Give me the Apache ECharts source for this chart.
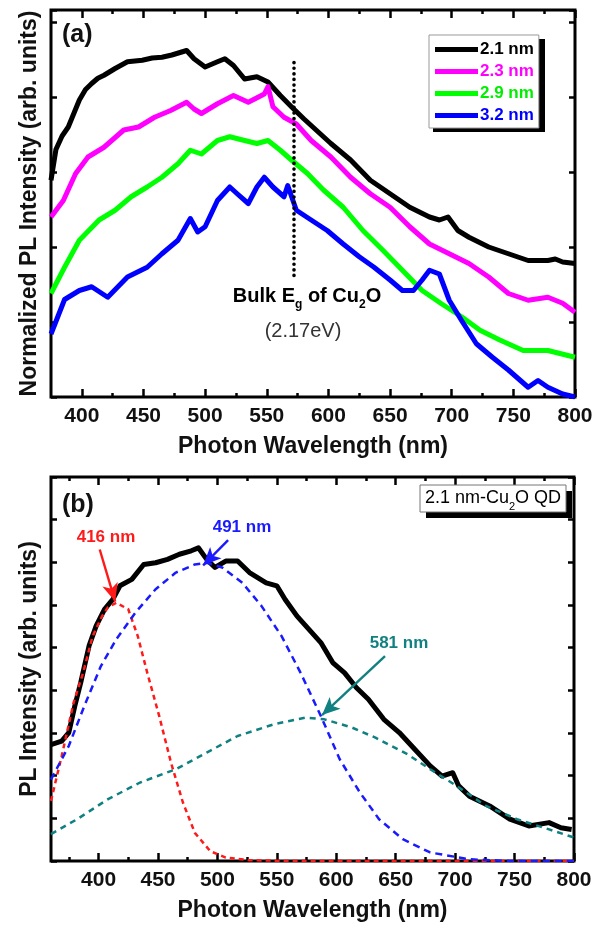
<!DOCTYPE html>
<html>
<head>
<meta charset="utf-8">
<script src="https://cdn.jsdelivr.net/npm/echarts@6/dist/echarts.min.js"></script>
<style>
  html, body { margin: 0; padding: 0; background: #fff; }
  #chart { width: 611px; height: 928px; }
</style>
</head>
<body>
<div id="chart"></div>
<script>
// ---- (a) normalized PL spectra, offset vertically ----
const aWl21 = [375,379,384,389,394,398,403,408,413,418,427,437,449,457,465,473,481,485,491,500,510,516,523,532,542,551,561,570,580,590,602,618,634,650,666,682,690,697,705,714,730,746,762,778,784,790,800];
const aPl21 = [2.89,3.30,3.48,3.60,3.80,3.96,4.10,4.18,4.25,4.29,4.38,4.47,4.49,4.52,4.53,4.56,4.60,4.62,4.51,4.40,4.47,4.51,4.42,4.24,4.27,4.20,4.02,3.87,3.71,3.56,3.38,3.16,2.89,2.71,2.53,2.40,2.36,2.40,2.22,2.13,2.00,1.91,1.82,1.82,1.84,1.80,1.78];

const aWl23 = [375,385,395,405,418,434,446,459,472,485,491,497,510,523,535,548,551,555,564,574,586,602,618,634,650,666,682,698,714,730,746,762,778,790,800];
const aPl23 = [2.40,2.62,2.98,3.20,3.33,3.56,3.60,3.73,3.82,3.93,3.84,3.78,3.91,4.02,3.93,4.04,4.14,3.87,3.73,3.64,3.42,3.20,2.93,2.71,2.53,2.27,2.04,1.91,1.78,1.60,1.38,1.29,1.33,1.25,1.13];

const aWl29 = [375,386,398,414,427,440,453,465,478,488,497,510,520,532,542,551,561,570,583,596,612,628,644,660,676,692,708,723,739,758,778,800];
const aPl29 = [1.38,1.73,2.09,2.36,2.49,2.67,2.80,2.93,3.11,3.29,3.24,3.42,3.47,3.42,3.38,3.42,3.29,3.16,2.98,2.76,2.53,2.22,1.96,1.69,1.42,1.24,1.07,0.89,0.76,0.62,0.62,0.53];

const aWl32 = [375,386,398,408,421,437,453,465,478,488,494,500,510,520,526,535,542,548,555,564,567,574,586,599,612,625,637,650,660,669,676,682,690,698,708,720,733,746,762,770,778,790,800];
const aPl32 = [0.84,1.30,1.42,1.47,1.33,1.60,1.73,1.91,2.09,2.38,2.20,2.27,2.62,2.80,2.71,2.58,2.80,2.93,2.80,2.67,2.82,2.49,2.36,2.22,2.04,1.87,1.73,1.56,1.42,1.42,1.56,1.69,1.64,1.29,1.02,0.71,0.53,0.36,0.13,0.22,0.13,0.04,0.0];

const bulkEgNm = 572;          // 2.17 eV
const bulkEgSpan = [1.62, 4.49];

// ---- (b) 2.1 nm spectrum and its three gaussian components ----
const bWl = [360,369,375,380,385,392,398,405,412,418,428,438,448,458,468,478,484,491,498,507,517,527,541,550,557,567,577,587,597,607,617,627,640,653,666,679,689,698,703,712,729,746,762,779,789,798];
const bPl = [2.73,2.81,3.01,3.63,4.18,5.04,5.51,5.90,6.13,6.45,6.60,6.95,6.99,7.07,7.19,7.27,7.34,7.07,6.88,7.03,7.03,6.76,6.52,6.45,6.13,5.74,5.43,5.12,4.65,4.41,4.06,3.79,3.32,3.01,2.62,2.23,1.99,2.07,1.76,1.52,1.29,0.98,0.82,0.90,0.78,0.74];

const fit416Wl = [360,369,379,387,395,403,408,415,425,433,441,451,461,471,481,494,507,527,560,800];
const fit416 = [1.41,2.46,3.71,4.41,5.27,5.74,5.95,6.05,5.90,5.27,4.41,3.40,2.30,1.37,0.66,0.23,0.08,0.02,0,0];

const fit491Wl = [360,375,388,402,415,431,448,465,481,491,504,521,537,554,570,587,603,620,636,656,679,712,746,800];
const fit491 = [1.91,2.70,3.63,4.57,5.20,5.82,6.37,6.76,6.95,6.99,6.88,6.52,5.98,5.27,4.41,3.40,2.38,1.60,0.98,0.51,0.20,0.04,0,0];

const fit581Wl = [360,382,408,435,465,491,517,547,574,590,613,633,660,679,699,726,752,779,800];
const fit581 = [0.63,0.98,1.45,1.84,2.15,2.54,2.93,3.20,3.36,3.32,3.13,2.89,2.50,2.15,1.80,1.29,0.98,0.74,0.55];

const xTickLabels = [400,450,500,550,600,650,700,750,800];
const xMinorA = [425,475,525,575,625,675,725,775];
const xMinorB = [375,425,475,525,575,625,675,725,775];

const FONT = "'Liberation Sans', Arial, Helvetica, sans-serif";
const pairs = (xs, ys) => xs.map((x, i) => [x, ys[i]]);

const tickBase = { show: true, inside: true, lineStyle: { color: '#000', width: 2.5 } };
const titleStyle = { fontFamily: FONT, fontWeight: 'bold', fontSize: 23, color: '#111' };

function xAxesFor(grid, min, minors) {
  const common = {
    type: 'value', gridIndex: grid, min: min, max: 800,
    axisLine: { show: false, onZero: false },
    splitLine: { show: false }
  };
  return [
    Object.assign({}, common, {
      position: 'bottom',
      axisTick: Object.assign({}, tickBase, { length: 8, customValues: xTickLabels }),
      axisLabel: { show: true, customValues: xTickLabels, margin: 9,
        fontFamily: FONT, fontWeight: 'bold', fontSize: 21, color: '#111' },
      name: 'Photon Wavelength (nm)', nameLocation: 'middle', nameGap: 38,
      nameTextStyle: titleStyle
    }),
    Object.assign({}, common, {
      position: 'bottom',
      axisTick: Object.assign({}, tickBase, { length: 4, customValues: minors }),
      axisLabel: { show: false }
    }),
    Object.assign({}, common, {
      position: 'top',
      axisTick: Object.assign({}, tickBase, { length: 8, customValues: xTickLabels }),
      axisLabel: { show: false }
    }),
    Object.assign({}, common, {
      position: 'top',
      axisTick: Object.assign({}, tickBase, { length: 4, customValues: minors }),
      axisLabel: { show: false }
    })
  ];
}

function yAxesFor(grid, max, name) {
  const common = {
    type: 'value', gridIndex: grid, min: 0, max: max, interval: 1,
    axisLine: { show: false, onZero: false },
    splitLine: { show: false },
    axisTick: Object.assign({}, tickBase, { length: 6 }),
    axisLabel: { show: false }
  };
  return [
    Object.assign({}, common, {
      position: 'left', name: name, nameLocation: 'middle', nameGap: 10,
      nameTextStyle: titleStyle
    }),
    Object.assign({}, common, { position: 'right' })
  ];
}

function curve(name, xs, ys, color, width, xi, yi, dash) {
  return {
    name: name, type: 'line', xAxisIndex: xi, yAxisIndex: yi,
    data: pairs(xs, ys), showSymbol: false, symbol: 'none',
    lineStyle: { color: color, width: width, type: dash || 'solid', join: 'round' },
    itemStyle: { color: color },
    silent: true
  };
}

// one arrow of panel (b): tail -> head
function arrow(color, from, to) {
  return [
    { coord: from, symbol: 'none', lineStyle: { color: color, width: 2.4, type: 'solid' }, itemStyle: { color: color } },
    { coord: to, symbol: 'arrow', symbolSize: [12, 18], itemStyle: { color: color } }
  ];
}

const subRich = (size, weight, color) => ({
  m: { fontFamily: FONT, fontSize: size, fontWeight: weight, color: color, lineHeight: size + 10 },
  s: { fontFamily: FONT, fontSize: Math.round(size * 0.62), fontWeight: weight, color: color,
       lineHeight: Math.round(size * 0.62), verticalAlign: 'bottom' }
});

const black21 = curve('2.1 nm', aWl21, aPl21, '#000000', 5, 0, 0);
black21.markLine = {
  silent: true, symbol: 'none', label: { show: false },
  lineStyle: { color: '#000', width: 3.6, type: [0.1, 5.5], cap: 'round' },
  data: [[{ coord: [bulkEgNm, bulkEgSpan[0]] }, { coord: [bulkEgNm, bulkEgSpan[1]] }]]
};

const bBlack = curve('2.1 nm QD', bWl, bPl, '#000000', 5, 4, 2);
bBlack.markLine = {
  silent: true, symbol: ['none', 'arrow'], symbolSize: 14, label: { show: false },
  data: [
    arrow('#ff1a1a', [401, 7.30], [414, 6.08]),
    arrow('#1a1aff', [509, 7.52], [488, 6.93]),
    arrow('#118080', [641, 4.80], [588, 3.42])
  ]
};

const option = {
  animation: false,
  backgroundColor: '#fff',
  grid: [
    { left: 51, top: 10, width: 524, height: 387, show: true, borderColor: '#000', borderWidth: 3, containLabel: false },
    { left: 51, top: 477, width: 523, height: 384, show: true, borderColor: '#000', borderWidth: 3, containLabel: false }
  ],
  xAxis: xAxesFor(0, 375, xMinorA).concat(xAxesFor(1, 360, xMinorB)),
  yAxis: yAxesFor(0, 5.16, 'Normalized PL Intensity (arb. units)')
    .concat(yAxesFor(1, 9, 'PL Intensity (arb. units)')),
  legend: {
    orient: 'vertical', left: 429, top: 35, z: 20,
    icon: 'rect', itemWidth: 43, itemHeight: 5, itemGap: 5,
    padding: [6, 5, 4, 6],
    backgroundColor: '#fff', borderColor: '#999', borderWidth: 1,
    selectedMode: false,
    textStyle: { fontFamily: FONT, fontWeight: 'bold', fontSize: 17, padding: [0, 0, 0, -3] },
    data: [
      { name: '2.1 nm', textStyle: { color: '#000000' } },
      { name: '2.3 nm', textStyle: { color: '#ff00ff' } },
      { name: '2.9 nm', textStyle: { color: '#00ee00' } },
      { name: '3.2 nm', textStyle: { color: '#0000ff' } }
    ]
  },
  series: [
    black21,
    curve('2.3 nm', aWl23, aPl23, '#ff00ff', 5, 0, 0),
    curve('2.9 nm', aWl29, aPl29, '#00ff00', 5, 0, 0),
    curve('3.2 nm', aWl32, aPl32, '#0000ff', 5, 0, 0),
    bBlack,
    curve('416 nm', fit416Wl, fit416, '#ff1a1a', 2.5, 4, 2, [5, 4]),
    curve('491 nm', fit491Wl, fit491, '#1a1aff', 2.5, 4, 2, [7, 5]),
    curve('581 nm', fit581Wl, fit581, '#118080', 2.5, 4, 2, [6, 5])
  ],
  graphic: [
    // legend drop shadow
    { type: 'rect', z: 5, shape: { x: 433, y: 39, width: 112, height: 93 }, style: { fill: '#000' } },
    { type: 'text', left: 62, top: 23, style: { text: '(a)', font: 'bold 25px ' + FONT, fill: '#111' } },
    { type: 'text', left: 62, top: 493, style: { text: '(b)', font: 'bold 25px ' + FONT, fill: '#111' } },
    { type: 'text', x: 307, y: 296, style: {
        text: '{m|Bulk E}{s|g}{m| of Cu}{s|2}{m|O}', rich: subRich(20, 'bold', '#1a1a1a'),
        align: 'center', verticalAlign: 'middle' } },
    { type: 'text', x: 303, y: 331, style: {
        text: '(2.17eV)', font: '20px ' + FONT, fill: '#333', align: 'center', verticalAlign: 'middle' } },
    { type: 'text', x: 106, y: 537, style: {
        text: '416 nm', font: 'bold 17px ' + FONT, fill: '#ff1a1a', align: 'center', verticalAlign: 'middle' } },
    { type: 'text', x: 242, y: 527, style: {
        text: '491 nm', font: 'bold 17px ' + FONT, fill: '#1a1aff', align: 'center', verticalAlign: 'middle' } },
    { type: 'text', x: 399, y: 643, style: {
        text: '581 nm', font: 'bold 17px ' + FONT, fill: '#118080', align: 'center', verticalAlign: 'middle' } },
    { type: 'rect', shape: { x: 426, y: 491, width: 146, height: 27 }, style: { fill: '#000' }, z: 10 },
    { type: 'rect', shape: { x: 420, y: 485, width: 146, height: 27 }, style: { fill: '#fff', stroke: '#777', lineWidth: 1 }, z: 11 },
    { type: 'text', x: 493, y: 498, z: 12, style: {
        text: '{m|2.1 nm-Cu}{s|2}{m|O QD}', rich: subRich(18, 'normal', '#111'),
        align: 'center', verticalAlign: 'middle' } }
  ]
};

const chart = echarts.init(document.getElementById('chart'));
chart.setOption(option);
window.addEventListener('resize', function () { chart.resize(); });
</script>
</body>
</html>
